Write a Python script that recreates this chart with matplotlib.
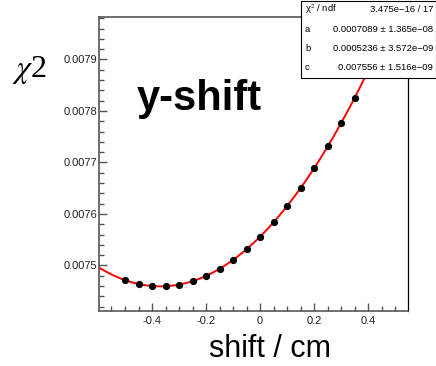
import numpy as np
import matplotlib.pyplot as plt
from matplotlib.ticker import MultipleLocator, FormatStrFormatter
from matplotlib.patches import Rectangle

plt.rcParams['font.family'] = ['Liberation Sans', 'DejaVu Sans']
plt.rcParams['mathtext.fontset'] = 'stix'

# chi2 scan as a function of the y shift
shift_cm = [-0.50, -0.45, -0.40, -0.35, -0.30, -0.25, -0.20, -0.15, -0.10, -0.05,
            0.00, 0.05, 0.10, 0.15, 0.20, 0.25, 0.30, 0.35, 0.40, 0.45]
chi2 = [0.0074714, 0.0074639, 0.0074600, 0.0074596, 0.0074627, 0.0074694,
        0.0074796, 0.0074934, 0.0075107, 0.0075316, 0.0075560, 0.0075840,
        0.0076155, 0.0076505, 0.0076891, 0.0077312, 0.0077769, 0.0078261,
        0.0078789, 0.0079352]

# pol2 fit result (stat box)
fit_a, fit_b, fit_c = 0.0007089, 0.0005236, 0.007556
stat_rows = [("χ$^{2}$ / ndf", "3.475e−16 / 17"),
             ("a", "0.0007089 ± 1.365e−08"),
             ("b", "0.0005236 ± 3.572e−09"),
             ("c", "0.007556 ± 1.516e−09")]

W, H = 436, 366
fig = plt.figure(figsize=(W / 100, H / 100), dpi=100)
ax = fig.add_axes([99.3 / W, 1 - 310.7 / H, (407.5 - 99.3) / W, (310.7 - 16.5) / H])

xmin, xmax = -0.595, 0.545
ymin, ymax = 0.007412, 0.0079835

xf = np.linspace(xmin, xmax, 300)
ax.plot(xf, np.polyval([fit_a, fit_b, fit_c], xf), color='#ff0000', lw=1.4, zorder=2)
ax.plot(shift_cm, chi2, 'o', color='black', ms=4.2, zorder=3)

ax.set_xlim(xmin, xmax)
ax.set_ylim(ymin, ymax)

ax.xaxis.set_major_locator(MultipleLocator(0.2))
ax.xaxis.set_minor_locator(MultipleLocator(0.05))
ax.yaxis.set_major_locator(MultipleLocator(0.0001))
ax.yaxis.set_minor_locator(MultipleLocator(0.00002))
ax.xaxis.set_major_formatter(FormatStrFormatter('%g'))
ax.yaxis.set_major_formatter(FormatStrFormatter('%.4f'))

ax.tick_params(which='both', direction='in', top=False, right=False, color='#555555', width=1.0)
ax.tick_params(which='major', length=8.5 / 1.389, labelsize=8, labelcolor='#222222')
ax.tick_params(which='minor', length=5 / 1.389)
ax.tick_params(axis='y', pad=1.5)
ax.tick_params(axis='x', pad=3.5)
for sp in ax.spines.values():
    sp.set_color('#555555')
    sp.set_linewidth(1.2)
ax.spines['right'].set_color('black')
ax.spines['right'].set_linewidth(0.9)

# labels
fig.text(270 / W, 1 - 357 / H, "shift / cm", ha='center', va='baseline', fontsize=22)
fig.text(12 / W, 1 - 77 / H, r"$\chi$2", ha='left', va='baseline', fontsize=23,
         family='Liberation Serif')
fig.text(136.5 / W, 1 - 110 / H, "y-shift", ha='left', va='baseline', fontsize=30,
         fontweight='bold')

# stat box
bx0, bx1, by1 = 301 / W, 1.0, 1 - 77.5 / H
fig.patches.append(Rectangle((bx0, by1), bx1 - bx0 - 0.5 / W, 1 - by1 - 0.5 / H,
                             transform=fig.transFigure, facecolor='white',
                             edgecolor='black', lw=0.8, zorder=5))
row_h = (1 - by1) / len(stat_rows)
for i, (name, val) in enumerate(stat_rows):
    yc = 1 - (i + 0.5) * row_h
    fig.text(305 / W, yc, name, ha='left', va='center', fontsize=6.8, zorder=6)
    fig.text(433 / W, yc, val, ha='right', va='center', fontsize=6.8, zorder=6)

fig.savefig('out.png', dpi=100)
